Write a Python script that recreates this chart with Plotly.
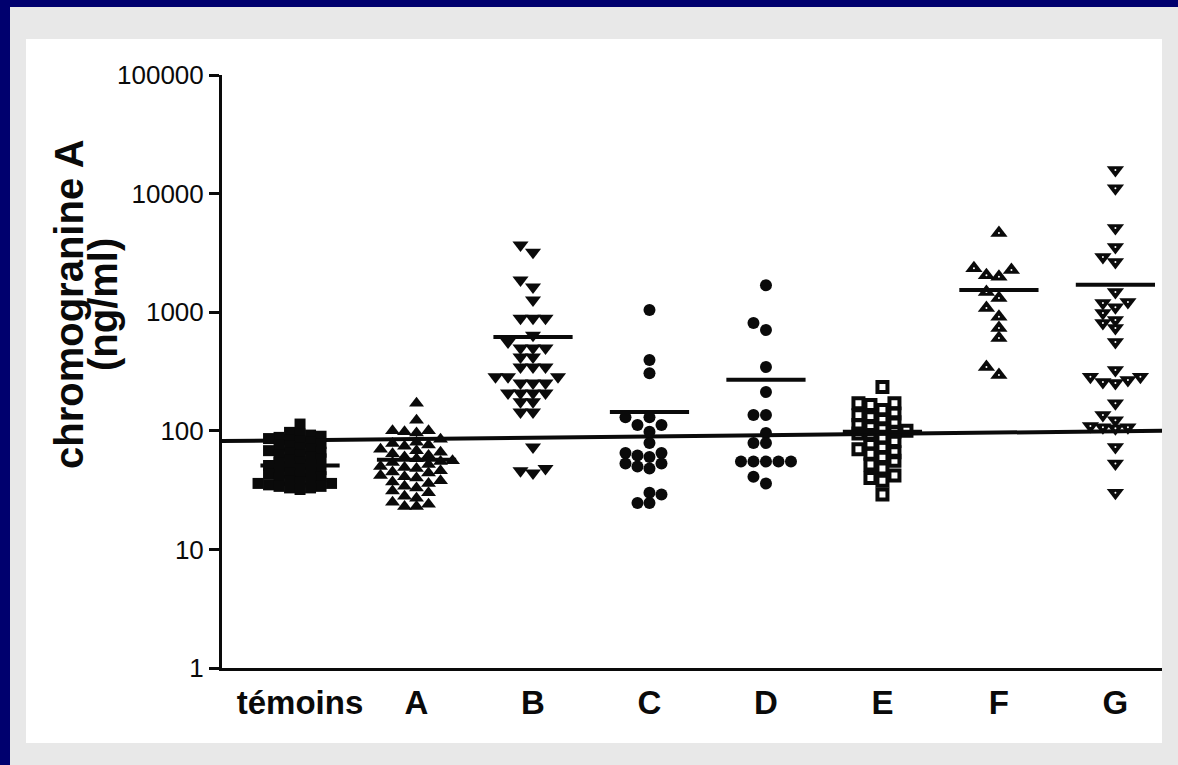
import math
import plotly.graph_objects as go

# ---------------- data ----------------
categories = ["témoins", "A", "B", "C", "D", "E", "F", "G"]

temoins = [114, 97, 94, 92, 90, 88, 86, 84, 82, 80, 78, 76, 74, 72, 70, 68,
           66, 65, 63, 62, 60, 58, 57, 55, 54, 52, 51, 50, 48, 47, 46, 45,
           44, 43, 42, 41, 40, 39, 38, 37, 36, 36, 35, 34, 34, 33, 33, 32]
groupe_A = [171, 123, 100, 100, 98, 96, 85, 80, 78, 76, 74, 70, 68, 66, 64,
            62, 60, 58, 56, 55, 54, 52, 50, 49, 48, 46, 45, 44, 42, 41, 40,
            38, 37, 36, 34, 33, 31, 30, 28, 27, 25, 24, 23, 23]
groupe_B = [3690, 3200, 1870, 1630, 1270, 890, 890, 890, 640, 560, 500, 500,
            500, 420, 420, 345, 345, 345, 285, 285, 285, 253, 253, 253, 208,
            208, 208, 208, 176, 176, 144, 144, 73, 48, 46, 44]
groupe_C = [1043, 395, 305, 130, 130, 112, 112, 98, 79, 65, 65, 62, 60, 53,
            53, 50, 48, 30, 29, 24.6, 24.6]
groupe_D = [1690, 811, 707, 345, 212, 136, 136, 96, 79, 79, 55, 55, 55, 55,
            55, 41, 36]
groupe_E = [234, 171, 171, 165, 150, 140, 135, 130, 125, 118, 112, 110, 105,
            100, 98, 95, 92, 88, 82, 78, 72, 70, 66, 64, 60, 56, 52, 48, 42,
            40, 38, 29]
groupe_F = [4660, 2350, 2270, 2050, 1990, 1480, 1320, 1085, 915, 736, 607,
            345, 295]
groupe_G = [15800, 11100, 5130, 3540, 2920, 2650, 1480, 1220, 1195, 1100, 985,
            860, 811, 736, 560, 326, 285, 285, 268, 258, 253, 171, 136, 123,
            110, 107, 107, 105, 73, 53, 30]

group_means = [51, 57, 617, 144, 270, 98, 1540, 1700]
threshold_ends = [82, 100]

y_tick_vals = [1, 10, 100, 1000, 10000, 100000]
y_tick_text = ["1", "10", "100", "1000", "10000", "100000"]

# ---------------- layout geometry / styles ----------------
W, H = 1178, 765
ML, MR, MT, MB = 222, 16, 75, 97
X_RANGE = [-0.67, 7.4]
Y_RANGE = [0, 5]
PW = W - ML - MR
PH = H - MT - MB
PX_X = PW / (X_RANGE[1] - X_RANGE[0])
PX_Y = PH / (Y_RANGE[1] - Y_RANGE[0])

INK = "#0a0a0a"
NAVY = "#00006e"
GRAY = "#e8e8e8"
FONT = "Liberation Sans, Arial, sans-serif"

# marker style, swarm column step (px), minimal vertical gap (px), white centre dot
styles = [
    dict(m=dict(symbol="square", size=11, line=dict(width=0)), step=10.5, gap=6.5, dot=False),
    dict(m=dict(symbol="triangle-up", size=13, line=dict(width=0)), step=12.0, gap=8.0, dot=False),
    dict(m=dict(symbol="triangle-down", size=14, line=dict(width=0)), step=12.5, gap=8.5, dot=False),
    dict(m=dict(symbol="circle", size=12, line=dict(width=0)), step=12.0, gap=9.0, dot=False),
    dict(m=dict(symbol="circle", size=12, line=dict(width=0)), step=12.5, gap=9.0, dot=False),
    dict(m=dict(symbol="square-open", size=10, line=dict(width=4, color=INK)), step=12.0, gap=8.0, dot=False),
    dict(m=dict(symbol="triangle-up", size=15, line=dict(width=0)), step=12.5, gap=9.0, dot=True),
    dict(m=dict(symbol="triangle-down", size=15, line=dict(width=0)), step=12.5, gap=8.0, dot=True),
]


def swarm_offsets(values, step_px, gap_px):
    n = len(values)
    ys = [math.log10(v) * PX_Y for v in values]
    order = sorted(range(n), key=lambda i: ys[i])
    cols = {}
    offs = [0.0] * n
    cand = [0]
    for j in range(1, 30):
        cand += [-j, j]
    for i in order:
        for c in cand:
            if all(abs(ys[i] - yy) >= gap_px for yy in cols.get(c, [])):
                cols.setdefault(c, []).append(ys[i])
                offs[i] = c * step_px / PX_X
                break
    return offs


groups = [temoins, groupe_A, groupe_B, groupe_C, groupe_D, groupe_E,
          groupe_F, groupe_G]

fig = go.Figure()

# threshold line
fig.add_trace(go.Scatter(x=[X_RANGE[0], X_RANGE[1]], y=threshold_ends,
                         mode="lines", line=dict(color=INK, width=4),
                         hoverinfo="skip", showlegend=False))

for i, vals in enumerate(groups):
    st = styles[i]
    offs = swarm_offsets(vals, st["step"], st["gap"])
    xs = [i + o for o in offs]
    fig.add_trace(go.Scatter(
        x=xs, y=vals, mode="markers",
        marker=dict(color=INK, **st["m"]),
        name=categories[i], showlegend=False))
    if st["dot"]:
        fig.add_trace(go.Scatter(
            x=xs, y=vals, mode="markers",
            marker=dict(color="white", symbol="circle", size=2,
                        line=dict(width=0)),
            hoverinfo="skip", showlegend=False))

# mean lines
mx, my = [], []
for i, m in enumerate(group_means):
    mx += [i - 0.34, i + 0.34, None]
    my += [m, m, None]
fig.add_trace(go.Scatter(x=mx, y=my, mode="lines",
                         line=dict(color=INK, width=4),
                         hoverinfo="skip", showlegend=False))


def xp(px):
    return (px - ML) / PW


def yp(py):
    return (H - MB - py) / PH


shapes = [
    dict(type="rect", xref="paper", yref="paper", layer="below",
         x0=xp(10), x1=xp(W + 5), y0=yp(7), y1=yp(H + 5),
         fillcolor=GRAY, line=dict(width=0)),
    dict(type="rect", xref="paper", yref="paper", layer="below",
         x0=xp(26), x1=xp(1162), y0=yp(39), y1=yp(743),
         fillcolor="white", line=dict(width=0)),
]

annotations = [
    dict(text="chromogranine A", textangle=-90, xref="paper", yref="paper",
         x=xp(69), y=yp(304), xanchor="center", yanchor="middle",
         showarrow=False,
         font=dict(family=FONT, size=40, color=INK, weight="bold")),
    dict(text="(ng/ml)", textangle=-90, xref="paper", yref="paper",
         x=xp(103), y=yp(305), xanchor="center", yanchor="middle",
         showarrow=False,
         font=dict(family=FONT, size=40, color=INK, weight="bold")),
]

fig.update_layout(
    width=W, height=H,
    margin=dict(l=ML, r=MR, t=MT, b=MB, pad=0),
    paper_bgcolor=NAVY, plot_bgcolor="white",
    shapes=shapes, annotations=annotations,
    showlegend=False,
    xaxis=dict(range=X_RANGE, tickmode="array",
               tickvals=list(range(len(categories))), ticktext=categories,
               showgrid=False, zeroline=False, showline=True,
               linecolor=INK, linewidth=3, ticks="",
               ticklabelstandoff=3,
               tickfont=dict(family=FONT, size=33, color=INK, weight="bold")),
    yaxis=dict(type="log", range=Y_RANGE, tickmode="array",
               tickvals=y_tick_vals, ticktext=y_tick_text,
               showgrid=False, zeroline=False, showline=True,
               linecolor=INK, linewidth=3, ticks="outside", ticklen=10,
               tickwidth=3, tickcolor=INK,
               tickfont=dict(family=FONT, size=26, color=INK)),
)

fig.write_html("out.html")
